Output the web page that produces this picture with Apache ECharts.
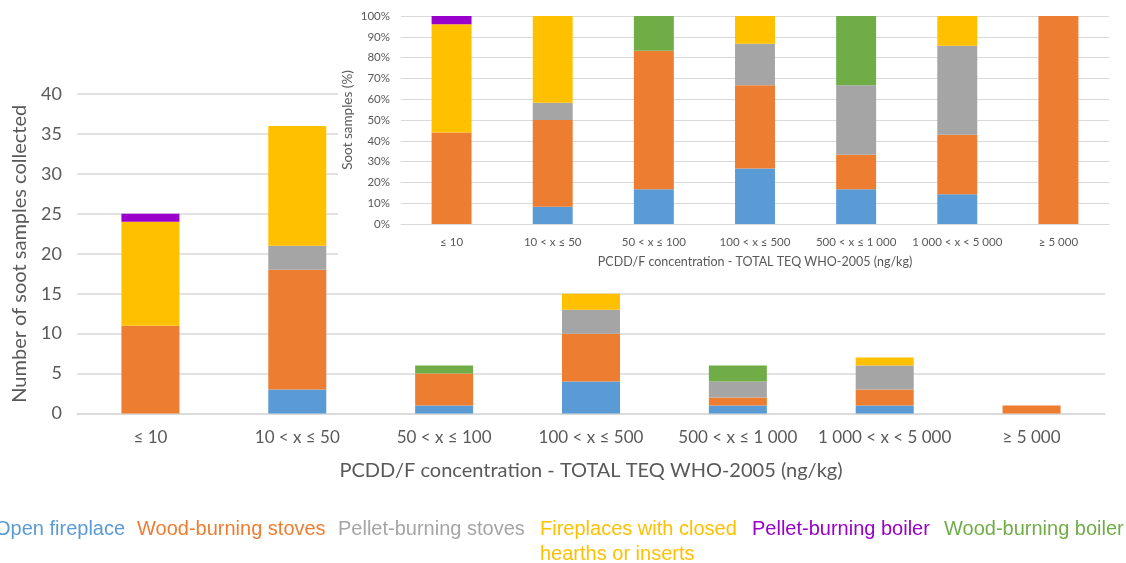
<!DOCTYPE html>
<html>
<head>
<meta charset="utf-8">
<title>Soot samples by PCDD/F concentration</title>
<script src="https://cdn.jsdelivr.net/npm/echarts@6/dist/echarts.min.js"></script>
<style>
  html, body { margin: 0; padding: 0; background: #ffffff; }
  #chart { width: 1126px; height: 563px; }
</style>
</head>
<body>
<div id="chart"></div>
<script>
// Concentration classes (ng/kg, TOTAL TEQ WHO-2005)
const categories = ['≤ 10', '10 < x ≤ 50', '50 < x ≤ 100', '100 < x ≤ 500', '500 < x ≤ 1 000', '1 000 < x < 5 000', '≥ 5 000'];

// Number of soot samples per appliance type, per class
const openFireplace      = [0, 3, 1, 4, 1, 1, 0];
const woodStoves         = [11, 15, 4, 6, 1, 2, 1];
const pelletStoves       = [0, 3, 0, 3, 2, 3, 0];
const closedFireplaces   = [13, 15, 0, 2, 0, 1, 0];
const pelletBoiler       = [1, 0, 0, 0, 0, 0, 0];
const woodBoiler         = [0, 0, 1, 0, 2, 0, 0];

const countTicks = [0, 5, 10, 15, 20, 25, 30, 35, 40];
const shareTicks = [0, 10, 20, 30, 40, 50, 60, 70, 80, 90, 100];

const seriesDefs = [
  { name: 'Open fireplace', legend: 'Open fireplace', data: openFireplace, color: '#5B9BD5' },
  { name: 'Wood-burning stoves', legend: 'Wood-burning stoves', data: woodStoves, color: '#ED7D31' },
  { name: 'Pellet-burning stoves', legend: 'Pellet-burning stoves', data: pelletStoves, color: '#A5A5A5' },
  { name: 'Fireplaces with closed hearths or inserts', legend: 'Fireplaces with closed\nhearths or inserts', data: closedFireplaces, color: '#FFC000' },
  { name: 'Pellet-burning boiler', legend: 'Pellet-burning boiler', data: pelletBoiler, color: '#9900CC' },
  { name: 'Wood-burning boiler', legend: 'Wood-burning boiler', data: woodBoiler, color: '#70AD47' }
];

// Total per class, used for the 100 % stacked inset
const totals = categories.map((_, i) => seriesDefs.reduce((s, d) => s + d.data[i], 0));

const axisText = '#595959';
const gridLine = '#D9D9D9';
const font = 'Lato, "Open Sans", sans-serif';

const series = [];
seriesDefs.forEach(d => {
  series.push({
    name: d.name,
    type: 'bar',
    stack: 'count',
    xAxisIndex: 0,
    yAxisIndex: 0,
    barWidth: '39.5%',
    itemStyle: { color: d.color },
    data: d.data,
    z: 2
  });
});
seriesDefs.forEach(d => {
  series.push({
    name: d.name + ' (%)',
    type: 'bar',
    stack: 'share',
    xAxisIndex: 1,
    yAxisIndex: 1,
    barWidth: '39.5%',
    itemStyle: { color: d.color },
    data: d.data.map((v, i) => totals[i] ? v / totals[i] * 100 : 0),
    z: 6
  });
});

// Colored legend labels along the bottom
const legendX = [-5, 137, 338, 540, 752, 944];
const legendTexts = seriesDefs.map((d, i) => ({
  type: 'text',
  left: legendX[i],
  top: 517,
  z: 10,
  style: {
    text: d.legend,
    fill: d.color,
    font: '20px "Liberation Sans", Arial, sans-serif',
    lineHeight: 25
  }
}));

const option = {
  animation: false,
  backgroundColor: '#ffffff',
  grid: [
    { left: 77, right: 21, top: 94, bottom: 149.5, containLabel: false },
    { left: 401, right: 17, top: 16, bottom: 339, containLabel: false }
  ],
  xAxis: [
    {
      type: 'category',
      gridIndex: 0,
      data: categories,
      axisLine: { lineStyle: { color: gridLine, width: 1.5 } },
      axisTick: { show: false },
      axisLabel: { color: axisText, fontSize: 17, fontFamily: font, margin: 16, interval: 0 },
      name: 'PCDD/F concentration - TOTAL TEQ WHO-2005 (ng/kg)',
      nameLocation: 'middle',
      nameGap: 47,
      nameTextStyle: { color: axisText, fontSize: 20, fontFamily: font },
      z: 0
    },
    {
      type: 'category',
      gridIndex: 1,
      data: categories,
      axisLine: { lineStyle: { color: gridLine, width: 1.2 } },
      axisTick: { show: false },
      axisLabel: { color: axisText, fontSize: 11.5, fontFamily: font, margin: 12, interval: 0 },
      name: 'PCDD/F concentration - TOTAL TEQ WHO-2005 (ng/kg)',
      nameLocation: 'middle',
      nameGap: 31,
      nameTextStyle: { color: axisText, fontSize: 12.5, fontFamily: font },
      z: 5
    }
  ],
  yAxis: [
    {
      type: 'value',
      gridIndex: 0,
      min: countTicks[0],
      max: countTicks[countTicks.length - 1],
      interval: countTicks[1] - countTicks[0],
      axisLine: { show: false },
      axisTick: { show: false },
      splitLine: { lineStyle: { color: gridLine, width: 1.5 } },
      axisLabel: { color: axisText, fontSize: 18, fontFamily: font, margin: 15 },
      name: 'Number of soot samples collected',
      nameLocation: 'middle',
      nameGap: 47,
      nameTextStyle: { color: axisText, fontSize: 20, fontFamily: font },
      z: 0
    },
    {
      type: 'value',
      gridIndex: 1,
      min: shareTicks[0],
      max: shareTicks[shareTicks.length - 1],
      interval: shareTicks[1] - shareTicks[0],
      axisLine: { show: false },
      axisTick: { show: false },
      splitLine: { lineStyle: { color: gridLine, width: 1.2 } },
      axisLabel: { color: axisText, fontSize: 11.5, fontFamily: font, margin: 11, formatter: '{value}%' },
      name: 'Soot samples (%)',
      nameLocation: 'middle',
      nameGap: 46,
      nameMoveOverlap: false,
      nameTextStyle: { color: axisText, fontSize: 13.5, fontFamily: font },
      z: 5
    }
  ],
  graphic: [
    {
      // white panel behind the inset chart
      type: 'rect',
      left: 338,
      top: 0,
      z: 1,
      shape: { width: 800, height: 275 },
      style: { fill: '#ffffff' }
    }
  ].concat(legendTexts),
  series: series
};

const chart = echarts.init(document.getElementById('chart'), null, { renderer: 'canvas' });
chart.setOption(option);
</script>
</body>
</html>
